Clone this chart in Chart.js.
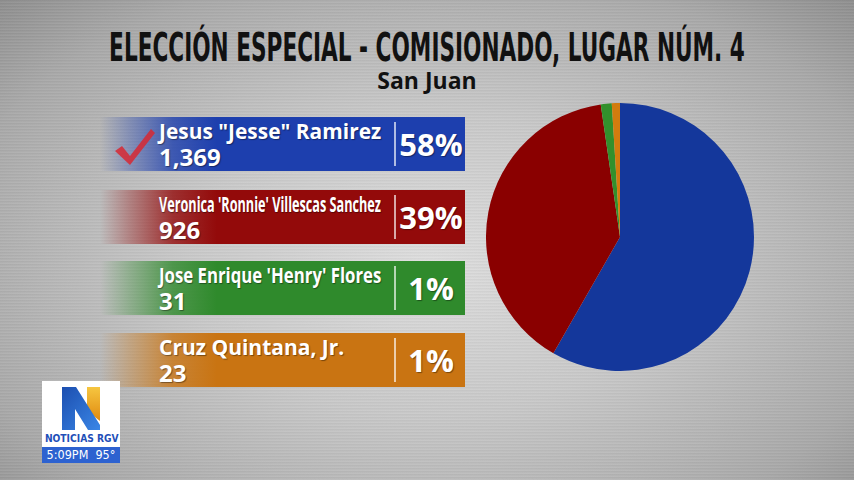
<!DOCTYPE html>
<html>
<head>
<meta charset="utf-8">
<script src="https://cdn.jsdelivr.net/npm/chart.js@4"></script>
<style>
  body { margin: 0; }
  #stage {
    position: relative; width: 854px; height: 480px; overflow: hidden;
    background:
      repeating-linear-gradient(0deg, rgba(255,255,255,0.05) 0px, rgba(255,255,255,0.05) 1px, rgba(0,0,0,0.03) 2px, rgba(0,0,0,0.03) 3px),
      radial-gradient(ellipse at 50% 55%, #dedede 0%, #c9c9c9 40%, #a9a9a9 80%, #8f8f8f 100%);
    font-family: "Open Sans", "Noto Sans", sans-serif;
  }
  #tituloTxt {
    position: absolute; left: 427px; top: 29px; white-space: nowrap; line-height: 38px;
    font-family: "DejaVu Sans Condensed", sans-serif;
    font-weight: bold; font-size: 39px; color: #111;
  }
  #subtitulo {
    position: absolute; left: 0; top: 67px; width: 854px; text-align: center; line-height: 26px;
    font-family: "Open Sans", "Noto Sans", sans-serif; font-weight: bold; font-size: 23px; color: #111;
  }
  .panel { position: absolute; left: 100px; width: 365px; height: 54px; }
  .nombre {
    position: absolute; left: 59px; top: 3px; line-height: 22px; color: #fff; font-weight: bold; font-size: 21px;
    font-family: "Open Sans", "Noto Sans", sans-serif; white-space: nowrap; transform-origin: left center;
    text-shadow: 1px 1px 1px rgba(0,0,0,0.4);
  }
  .votos {
    position: absolute; left: 59px; top: 28px; line-height: 24px; color: #fff; font-weight: bold; font-size: 24px;
    font-family: "Open Sans", "Noto Sans", sans-serif; text-shadow: 1px 1px 1px rgba(0,0,0,0.4);
  }
  .div { position: absolute; left: 294px; top: 5px; width: 2px; height: 44px; background: rgba(255,255,255,0.65); }
  .pct {
    position: absolute; left: 298px; width: 66px; top: 12px; line-height: 31px; text-align: center; color: #fff; font-weight: bold;
    font-size: 31px; font-family: "Open Sans", "Noto Sans", sans-serif; text-shadow: 1px 1px 1px rgba(0,0,0,0.4);
  }
  #pie { position: absolute; left: 486px; top: 103px; width: 268px; height: 268px; }
  #logo { position: absolute; left: 42px; top: 381px; width: 78px; height: 82px; background: #fff; }
  #logo .rgv { position: absolute; left: 0; top: 51px; width: 78px; text-align: center; color: #1f4fb8; white-space: nowrap;
    line-height: 13px; font-weight: bold; font-size: 11px; font-family: "DejaVu Sans Condensed", sans-serif; }
  #logo .hora { position: absolute; left: 0; top: 66px; width: 78px; height: 16px; background: #2d62d0; white-space: nowrap;
    color: #fff; font-size: 12.5px; line-height: 16px; text-align: center; font-family: "DejaVu Sans Condensed", sans-serif; }
</style>
</head>
<body>
<div id="stage">
  <div id="tituloTxt">ELECCIÓN ESPECIAL - COMISIONADO, LUGAR NÚM. 4</div>
  <div id="subtitulo">San Juan</div>
  <div id="paneles"></div>
  <div id="pie"><canvas id="pieChart"></canvas></div>
  <div id="logo">
    <svg width="78" height="50" style="position:absolute;left:0;top:0">
      <defs>
        <linearGradient id="gN" x1="0" y1="0" x2="1" y2="1">
          <stop offset="0" stop-color="#1c4fb0"/><stop offset="1" stop-color="#3a86e6"/>
        </linearGradient>
        <linearGradient id="gY" x1="0" y1="0" x2="0" y2="1">
          <stop offset="0" stop-color="#f6c640"/><stop offset="1" stop-color="#e08a10"/>
        </linearGradient>
      </defs>
      <path d="M45 6 L58 6 L58 40 L45 30 Z" fill="url(#gY)"/>
      <path d="M20 6 L34 6 L58 44 L58 49 L46 49 L33 28 L33 49 L20 49 Z" fill="url(#gN)"/>
    </svg>
    <div class="rgv">NOTICIAS RGV</div>
    <div class="hora">5:09PM&nbsp; 95°</div>
  </div>
</div>
<script>
const candidatos = ['Jesus "Jesse" Ramirez', "Veronica 'Ronnie' Villescas Sanchez", "Jose Enrique 'Henry' Flores", 'Cruz Quintana, Jr.'];
const votos = [1369, 926, 31, 23];
const votosTexto = ['1,369', '926', '31', '23'];
const porcentajes = ['58%', '39%', '1%', '1%'];
const coloresPanel = ['#1d3fae', '#930a0a', '#2f8a2c', '#c97412'];
const coloresPie = ['#14379b', '#8a0000', '#32902c', '#d27c0e'];
const topsPanel = [117, 190, 261, 333];

// ajustar el titulo al ancho del grafico original
const t = document.getElementById('tituloTxt');
t.style.transform = 'translateX(-50%) scaleX(' + (636 / t.offsetWidth) + ')';

// paneles de candidatos
const paneles = document.getElementById('paneles');
candidatos.forEach((nombre, i) => {
    const p = document.createElement('div');
    p.className = 'panel';
    p.style.top = topsPanel[i] + 'px';
    const c = coloresPanel[i];
    p.style.background = 'linear-gradient(90deg, rgba(255,255,255,0.0) 0%, ' + c + '55 8%, ' + c + 'cc 20%, ' + c + ' 32%, ' + c + ' 100%)';
    let html = '';
    if (i === 0) {
        html += '<svg width="44" height="40" style="position:absolute;left:13px;top:10px">' +
            '<path d="M2 24 L9 19 L17 29 L38 2 L42 6 L17 38 Z" fill="rgba(215,40,50,0.85)"/></svg>';
    }
    html += '<div class="nombre">' + nombre + '</div>';
    html += '<div class="votos">' + votosTexto[i] + '</div>';
    html += '<div class="div"></div>';
    html += '<div class="pct">' + porcentajes[i] + '</div>';
    p.innerHTML = html;
    paneles.appendChild(p);
    const n = p.querySelector('.nombre');
    if (n.offsetWidth > 222) n.style.transform = 'scaleX(' + (222 / n.offsetWidth) + ')';
});

const lg = document.querySelector('#logo .rgv');
lg.style.transform = 'scaleX(' + (74 / lg.scrollWidth) + ')';

const ctx = document.getElementById('pieChart').getContext('2d');
new Chart(ctx, {
    type: 'pie',
    data: {
        labels: candidatos,
        datasets: [{
            data: votos,
            backgroundColor: coloresPie,
            borderWidth: 0
        }]
    },
    options: {
        responsive: true,
        maintainAspectRatio: false,
        animation: false,
        layout: { padding: 0 },
        plugins: {
            legend: { display: false },
            tooltip: { enabled: false }
        }
    }
});
</script>
</body>
</html>
